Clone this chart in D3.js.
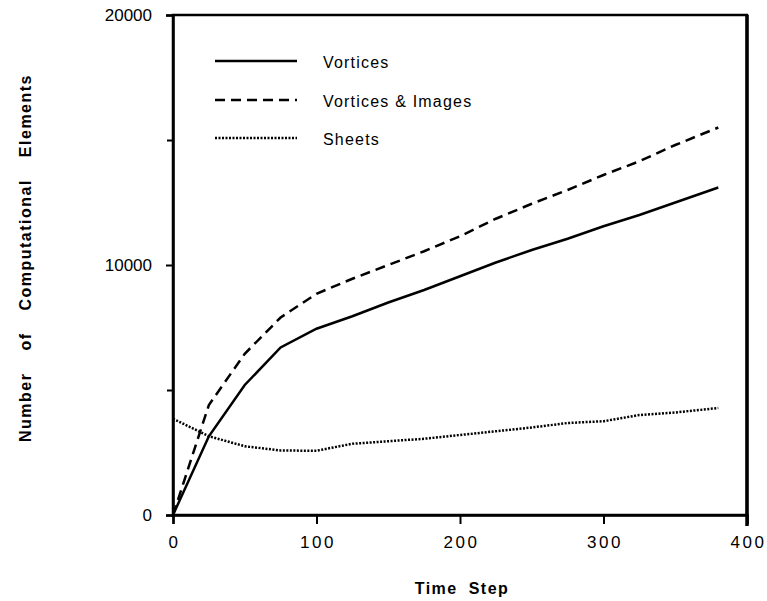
<!DOCTYPE html>
<html lang="en">
<head>
	<meta charset="utf-8">
	<title>Computational elements</title>
	<style>
		body { margin: 0; background: #fff; }
		svg { display: block; font-family: "Liberation Sans", Arial, sans-serif; }
	</style>
</head>
<body>
	<script src="https://cdn.jsdelivr.net/npm/d3@7"></script>
	<script>
		// values
		const timeSteps = [0, 25, 50, 75, 100, 125, 150, 175, 200, 225, 250, 275, 300, 325, 350, 380];
		const vortices = [0, 3150, 5200, 6700, 7450, 7950, 8500, 9000, 9550, 10100, 10600, 11050, 11550, 12000, 12500, 13100];
		const vorticesImages = [0, 4400, 6450, 7900, 8850, 9450, 10000, 10550, 11150, 11850, 12450, 13000, 13600, 14150, 14800, 15500];
		const sheets = [3850, 3150, 2750, 2580, 2570, 2850, 2950, 3050, 3200, 3350, 3500, 3680, 3750, 4000, 4100, 4280];

		const seriesNames = ["Vortices", "Vortices & Images", "Sheets"];
		const seriesDash = ["none", "10,6", "2,1.5"];
		const xTicks = [0, 100, 200, 300, 400];
		const yTicks = [0, 10000, 20000];
		const yMinorTicks = [5000, 15000];

		const width = 767, height = 601;
		const margin = { left: 173, right: 20, top: 15, bottom: 86 };

		const svg = d3.select("body").append("svg")
			.attr("width", width)
			.attr("height", height);

		const x = d3.scaleLinear().domain([0, 400]).range([margin.left, width - margin.right]);
		const y = d3.scaleLinear().domain([0, 20000]).range([height - margin.bottom, margin.top]);

		// frame (right edge a bit heavier, like the scan)
		svg.append("rect")
			.attr("x", x(0)).attr("y", y(20000))
			.attr("width", x(400) - x(0)).attr("height", y(0) - y(20000))
			.attr("fill", "none").attr("stroke", "#000").attr("stroke-width", 2.5);
		svg.append("line")
			.attr("x1", x(400)).attr("x2", x(400))
			.attr("y1", y(20000)).attr("y2", y(0) + 11)
			.attr("stroke", "#000").attr("stroke-width", 3.5);

		const xAxis = svg.append("g")
			.attr("transform", `translate(0,${y(0)})`)
			.call(d3.axisBottom(x).tickValues(xTicks).tickSize(9).tickPadding(12));
		const yAxis = svg.append("g")
			.attr("transform", `translate(${x(0)},0)`)
			.call(d3.axisLeft(y).tickValues(yTicks).tickSize(7).tickPadding(14).tickFormat(d3.format("d")));
		svg.append("g")
			.attr("transform", `translate(${x(0)},0)`)
			.call(d3.axisLeft(y).tickValues(yMinorTicks).tickSize(6).tickFormat(""))
			.select(".domain").remove();

		[xAxis, yAxis].forEach(a => {
			a.select(".domain").attr("stroke-width", 2.5);
			a.selectAll("text")
				.attr("font-size", 17)
				.attr("fill", "#000")
				.attr("font-family", "'Liberation Sans', Arial, sans-serif");
		});
		svg.selectAll(".tick line").attr("stroke-width", 2);
		xAxis.selectAll("text").attr("letter-spacing", 2.5).attr("dx", 1);

		// axis titles
		svg.append("text")
			.attr("x", 462).attr("y", 594)
			.attr("text-anchor", "middle")
			.attr("font-size", 16).attr("font-weight", "bold")
			.attr("letter-spacing", 1.5).attr("word-spacing", 5)
			.text("Time Step");
		svg.append("text")
			.attr("transform", "translate(31,258) rotate(-90)")
			.attr("text-anchor", "middle")
			.attr("font-size", 16).attr("font-weight", "bold")
			.attr("letter-spacing", 1.5).attr("word-spacing", 16)
			.text("Number of Computational Elements");

		// lines
		const series = [vortices, vorticesImages, sheets];
		const line = d3.line()
			.x((d, i) => x(timeSteps[i]))
			.y(d => y(d));

		svg.append("g").selectAll("path")
			.data(series)
			.join("path")
			.attr("d", d => line(d))
			.attr("fill", "none")
			.attr("stroke", "#000")
			.attr("stroke-width", 2.5)
			.attr("stroke-dasharray", (d, i) => seriesDash[i]);

		// legend
		const legend = svg.append("g");
		const legendY = [61, 100, 138];
		seriesNames.forEach((name, i) => {
			legend.append("line")
				.attr("x1", 215).attr("x2", 297)
				.attr("y1", legendY[i]).attr("y2", legendY[i])
				.attr("stroke", "#000")
				.attr("stroke-width", 2.5)
				.attr("stroke-dasharray", seriesDash[i]);
			legend.append("text")
				.attr("x", 323).attr("y", legendY[i] + 7)
				.attr("font-size", 16)
				.attr("letter-spacing", 1.2)
				.text(name);
		});
	</script>
</body>
</html>
